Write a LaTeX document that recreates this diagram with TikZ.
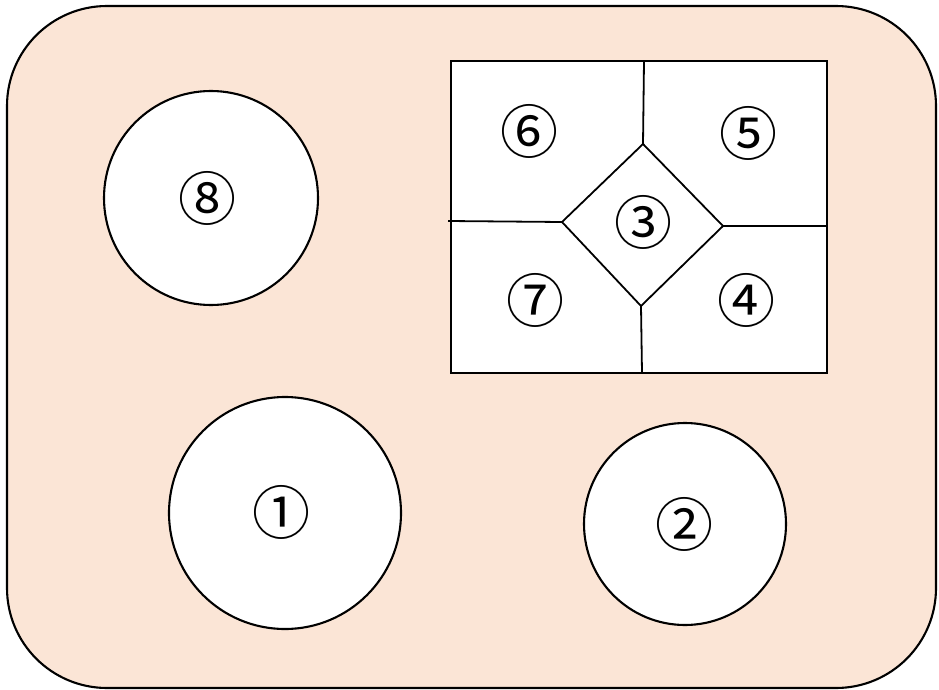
\documentclass[tikz,border=0pt]{standalone}
\usepackage{fontspec}
\newfontfamily\jpfont{Noto Sans CJK JP}
\definecolor{peach}{RGB}{251,229,214}
\begin{document}
\begin{tikzpicture}[x=1pt,y=-1pt,
  outline/.style={draw=black,line width=2.1pt},
  inner/.style={draw=black,line width=1.8pt},
  plate/.style={outline,fill=white,circle,inner sep=0pt},
  lbl/.style={font=\jpfont\fontsize{58}{58}\selectfont,inner sep=0pt}]
\useasboundingbox (0,0) rectangle (939,690);
\draw[outline,fill=peach,rounded corners=100pt] (7,6) rectangle (936,688);
% circles
\node[plate,minimum size=214pt] (c8) at (211,198) {};
\node[plate,minimum size=232pt] (c1) at (285,513) {};
\node[plate,minimum size=202pt] (c2) at (685,524) {};
\node[lbl] at (207,198) {⑧};
\node[lbl] at (281,512) {①};
\node[lbl] at (684,524) {②};
% rectangle
\draw[outline,fill=white] (451,61) rectangle (827,373);
\coordinate (dt) at (643,144);
\coordinate (dl) at (562,222);
\coordinate (dr) at (723,226);
\coordinate (db) at (641,306);
\coordinate (et) at (644,61);
\coordinate (el) at (448,221);
\coordinate (er) at (827,226);
\coordinate (eb) at (642,373);
\draw[inner,line join=miter] (dt) -- (dr) -- (db) -- (dl) -- cycle;
\draw[inner] (dt) -- (et);
\draw[inner] (dl) -- (el);
\draw[inner] (dr) -- (er);
\draw[inner] (db) -- (eb);
\node[lbl] (n6) at (529,131) {⑥};
\node[lbl] (n5) at (748,133) {⑤};
\node[lbl] (n3) at (643,222) {③};
\node[lbl] (n7) at (535,300) {⑦};
\node[lbl] (n4) at (746,300) {④};
\end{tikzpicture}
\end{document}
